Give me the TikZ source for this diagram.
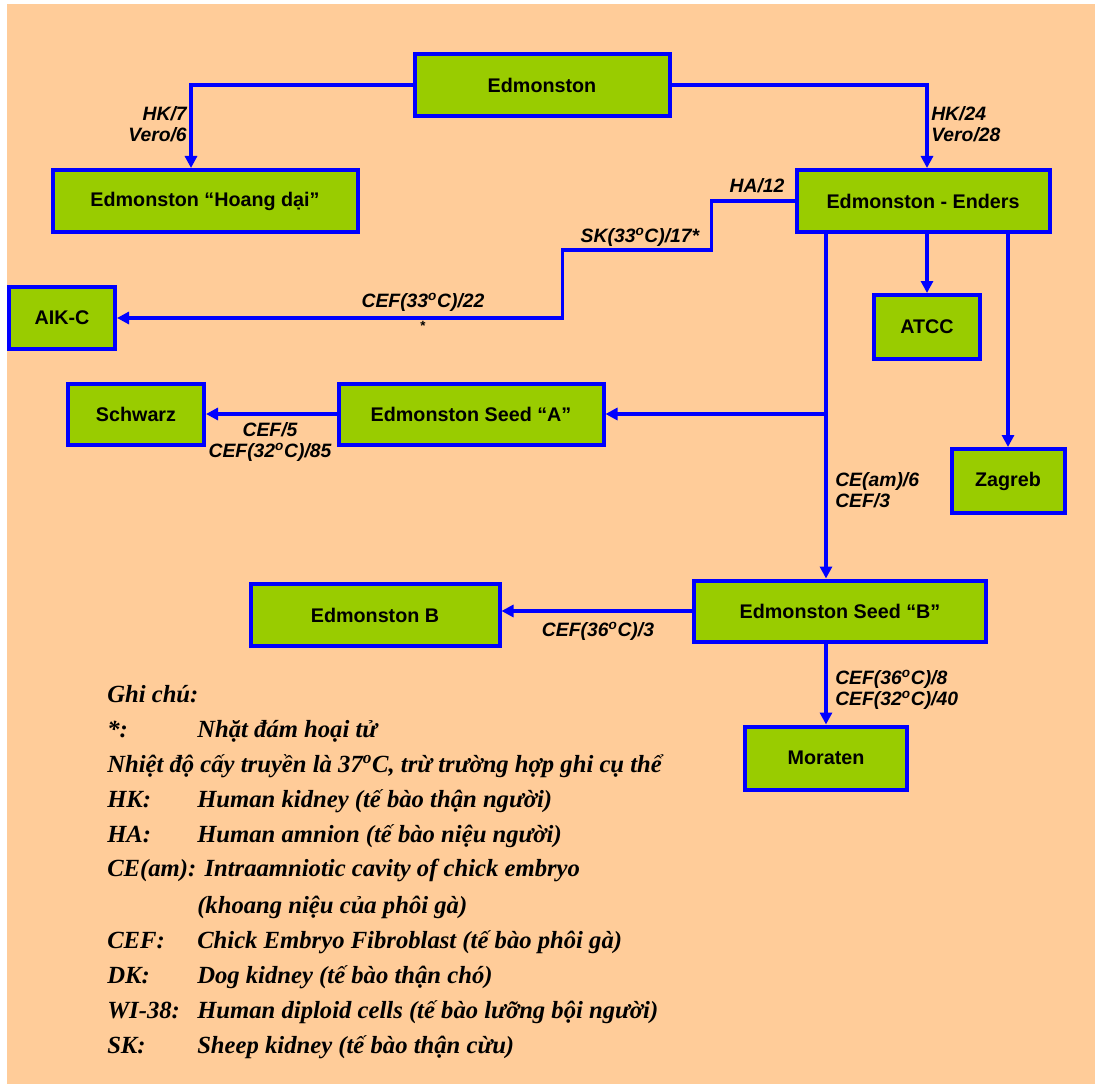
\documentclass[tikz,border=0pt]{standalone}
\usepackage{fontspec}
\setmainfont{Liberation Sans}
\newfontfamily\legfont{Liberation Serif}
\usetikzlibrary{arrows.meta}
\definecolor{bgorange}{HTML}{FFCC99}
\definecolor{boxgreen}{HTML}{99CC00}
\definecolor{lineblue}{HTML}{0000FF}
\tikzset{
  box/.style 2 args={draw=lineblue, line width=3pt, fill=boxgreen, inner sep=0pt,
    minimum width=#1*0.75pt-3pt, minimum height=#2*0.75pt-3pt,
    font=\fontsize{14.8}{17}\selectfont\bfseries},
  conn/.style={draw=lineblue, line width=2.4pt},
  arr/.style={conn, -{Triangle[length=9pt,width=9pt]}},
  lab/.style={font=\fontsize{14.5}{15.5}\selectfont\bfseries\itshape, inner sep=0pt},
  leg/.style={font=\legfont\fontsize{18.5}{22}\selectfont\bfseries\itshape, anchor=base west, inner sep=0pt}
}
\newcommand{\dg}{\textsuperscript{o}}
\begin{document}
\begin{tikzpicture}[x=0.75pt,y=-0.75pt]
\useasboundingbox (0,0) rectangle (1095,1084);
\fill[white] (0,0) rectangle (1095,1084);
\fill[bgorange] (7,4) rectangle (1095,1084);

% boxes
\node[box={259}{66}] (ed) at (542,85) {Edmonston};
\node[box={309}{66}] (hd) at (205,201) {Edmonston “Hoang dại”};
\node[box={257}{66}] (en) at (923,201) {Edmonston - Enders};
\node[box={110}{66}] (aik) at (62,318) {AIK-C};
\node[box={110}{68}] (atcc) at (927,327) {ATCC};
\node[box={117}{68}] (zag) at (1008,481) {Zagreb};
\node[box={140}{65}] (sch) at (136,414) {Schwarz};
\node[box={269}{65}] (sa) at (471,414) {Edmonston Seed “A”};
\node[box={296}{65}] (sb) at (840,611) {Edmonston Seed “B”};
\node[box={253}{66}] (eb) at (375,615) {Edmonston B};
\node[box={166}{67}] (mor) at (826,758) {Moraten};

% connectors
\draw[arr] (ed.west) -| ([xshift=-10.5pt]hd.north);
\draw[arr] (ed.east) -| ([xshift=3pt]en.north);
\draw[arr] (en.west) -- ++(-83,0) coordinate (k1) -- ++(0,49) coordinate (k2)
  -- ++(-149,0) coordinate (k3) |- (aik.east);
\coordinate (v1) at ([xshift=-72.75pt]en.south);
\draw[arr] (v1) -- (v1 |- sb.north);
\draw[arr] (v1 |- sa.east) -- (sa.east);
\draw[arr] (en.south -| atcc.north) -- (atcc.north);
\draw[arr] (en.south -| zag.north) -- (zag.north);
\draw[arr] (sa.west) -- (sch.east);
\draw[arr] (sb.west) -- (sb.west -| eb.east);
\draw[arr] (sb.south -| mor.north) -- (mor.north);

% edge labels
\node[lab, anchor=east, align=right] (l1) at (187,124) {HK/7\\Vero/6};
\node[lab, anchor=west, align=left] (l2) at (931,124) {HK/24\\Vero/28};
\node[lab] (l3) at (757,186) {HA/12};
\node[lab] (l4) at (640,237) {SK(33\dg C)/17*};
\node[lab] (l5) at (423,302) {CEF(33\dg C)/22};
\node[lab, font=\fontsize{10}{10}\selectfont\bfseries] (l6) at (423,326) {*};
\node[lab, align=center] (l7) at (270,442) {CEF/5\\CEF(32\dg C)/85};
\node[lab, anchor=west, align=left] (l8) at (835,490) {CE(am)/6\\CEF/3};
\node[lab] (l9) at (598,631) {CEF(36\dg C)/3};
\node[lab, anchor=west, align=left] (l10) at (835,690) {CEF(36\dg C)/8\\CEF(32\dg C)/40};

% legend
\node[leg] (g0) at (107,702) {Ghi chú:};
\node[leg] (g1a) at (107,737) {*:};
\node[leg] (g1b) at (197,737) {Nhặt đám hoại tử};
\node[leg] (g2) at (107,772) {Nhiệt độ cấy truyền là 37\textsuperscript{o}C, trừ trường hợp ghi cụ thể};
\node[leg] (g3a) at (107,807) {HK:};
\node[leg] (g3b) at (197,807) {Human kidney (tế bào thận người)};
\node[leg] (g4a) at (107,842) {HA:};
\node[leg] (g4b) at (197,842) {Human amnion (tế bào niệu người)};
\node[leg] (g5) at (107,876) {CE(am): Intraamniotic cavity of chick embryo};
\node[leg] (g6) at (197,913) {(khoang niệu của phôi gà)};
\node[leg] (g7a) at (107,948) {CEF:};
\node[leg] (g7b) at (197,948) {Chick Embryo Fibroblast (tế bào phôi gà)};
\node[leg] (g8a) at (107,983) {DK:};
\node[leg] (g8b) at (197,983) {Dog kidney (tế bào thận chó)};
\node[leg] (g9a) at (107,1018) {WI-38:};
\node[leg] (g9b) at (197,1018) {Human diploid cells (tế bào lưỡng bội người)};
\node[leg] (g10a) at (107,1053) {SK:};
\node[leg] (g10b) at (197,1053) {Sheep kidney (tế bào thận cừu)};
\end{tikzpicture}
\end{document}
